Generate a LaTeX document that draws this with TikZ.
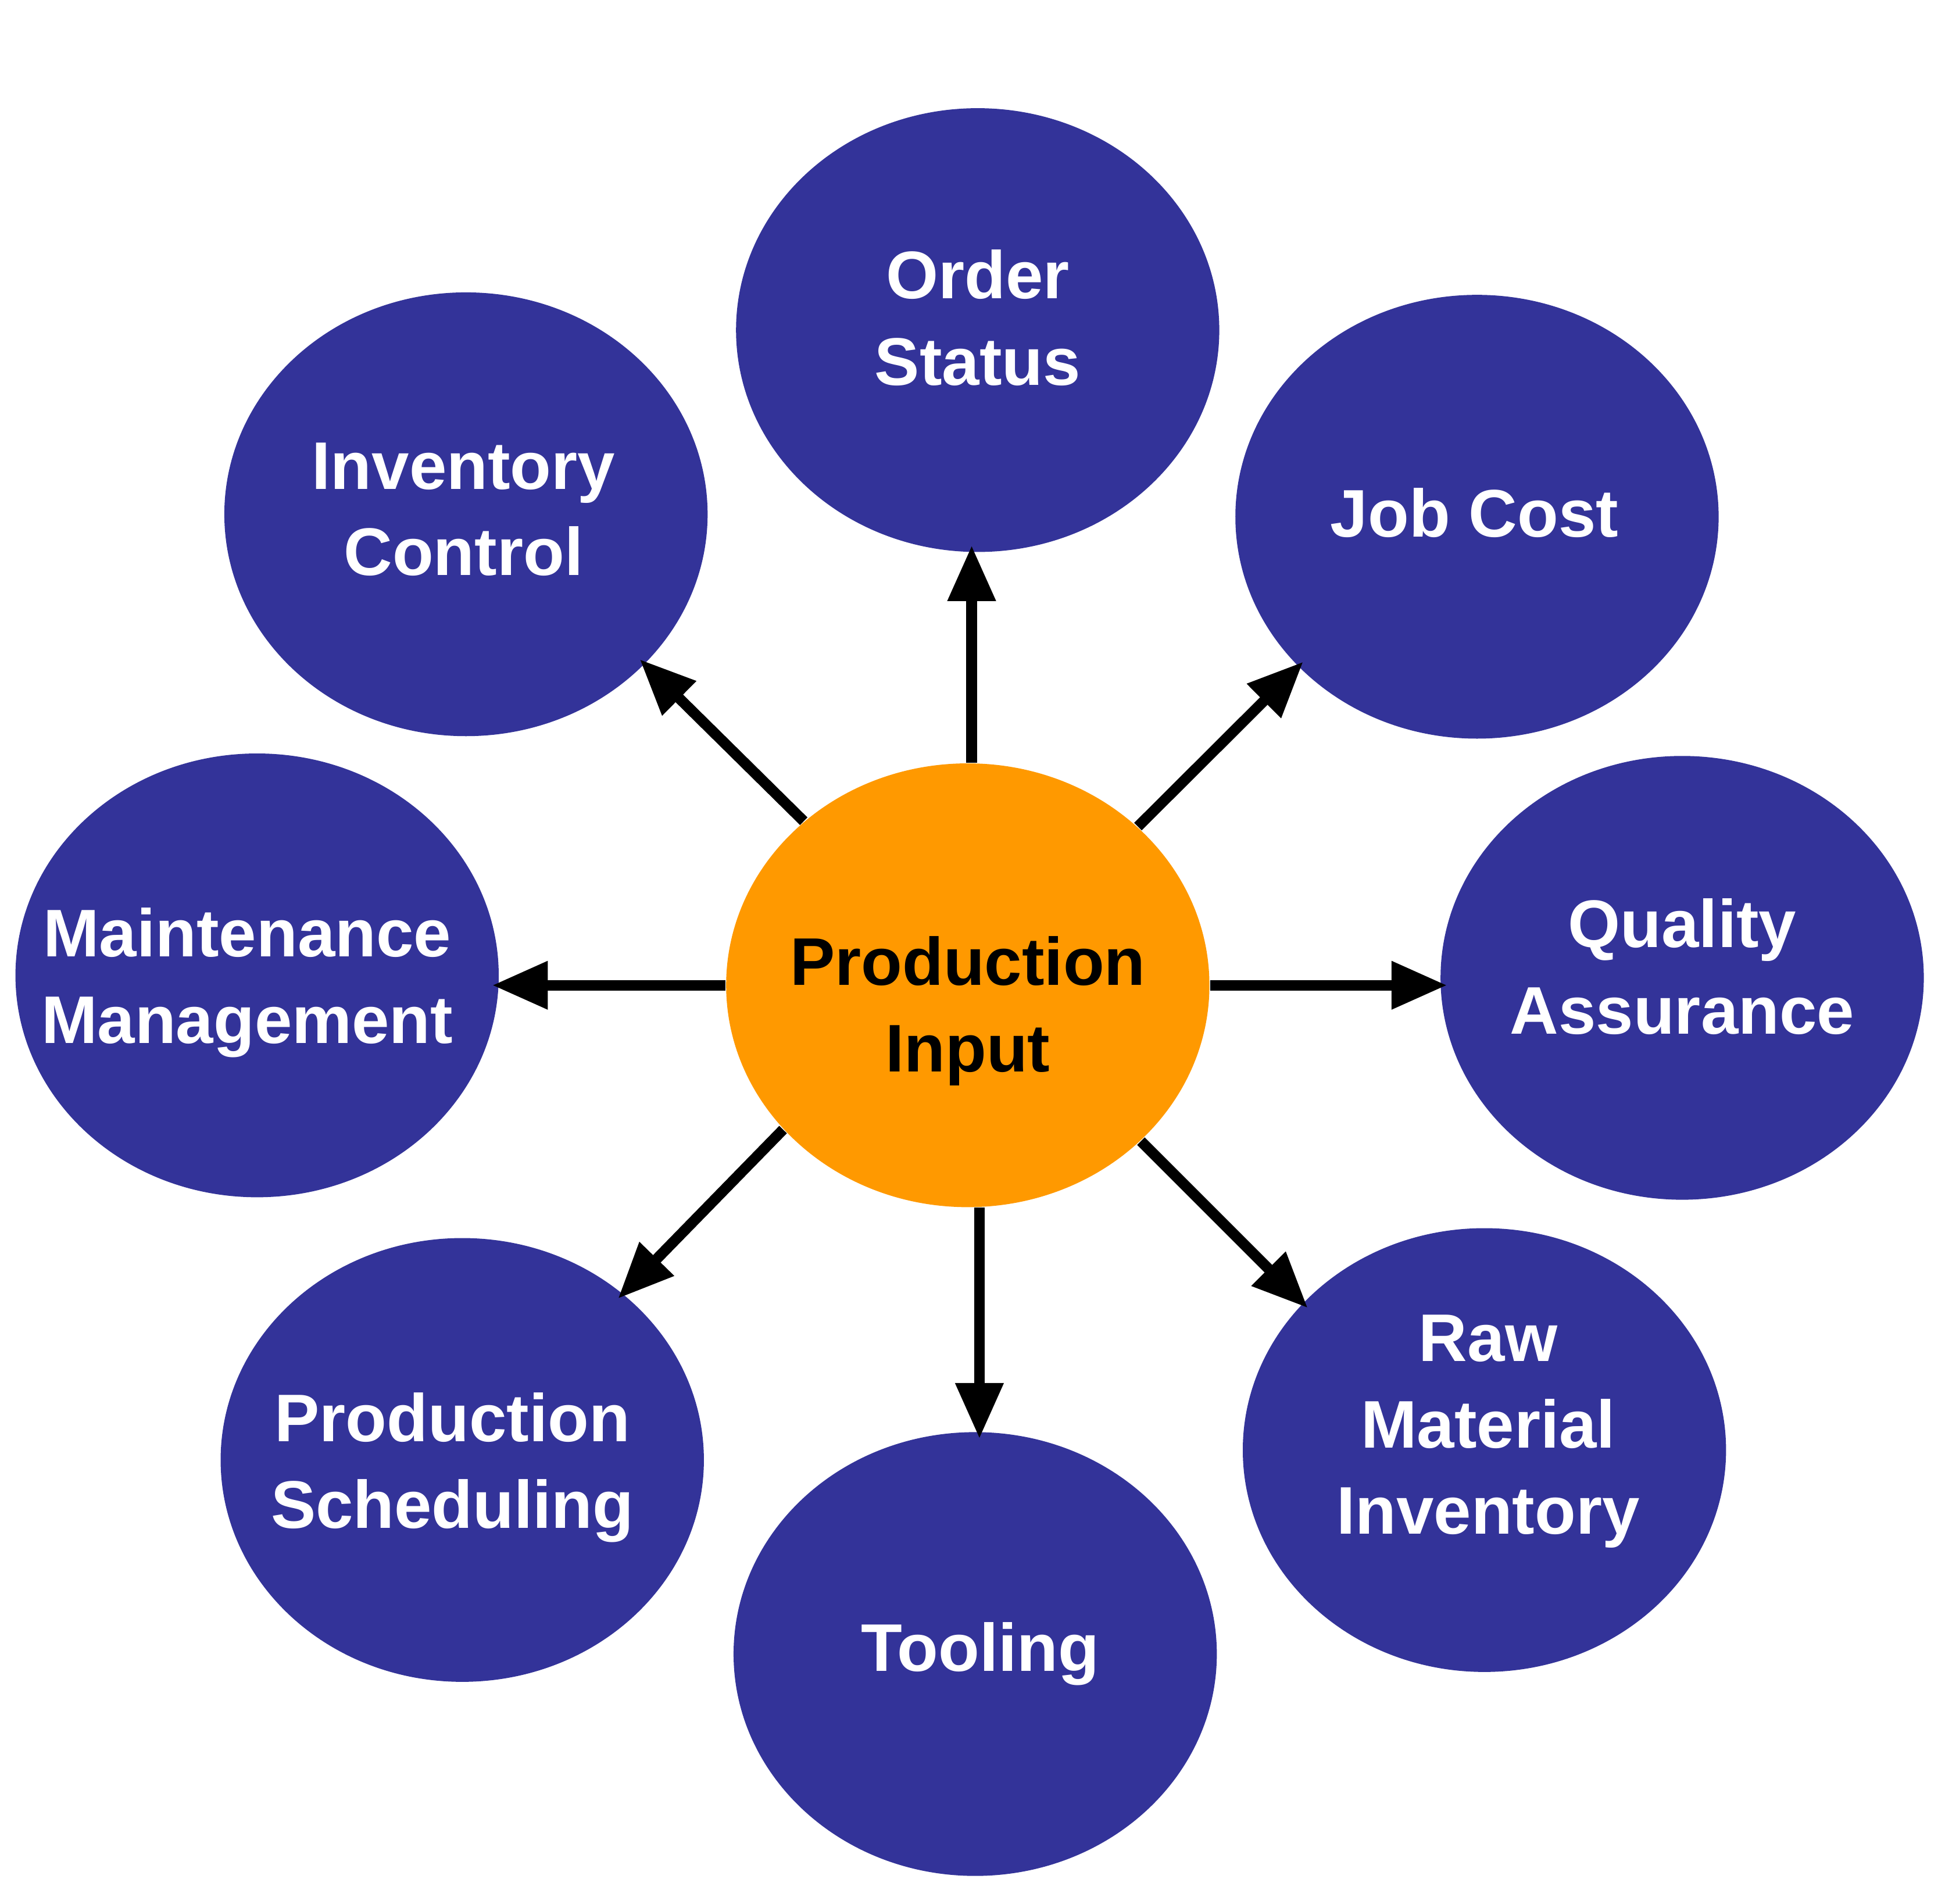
\documentclass[tikz,border=0pt]{standalone}
\usepackage{fontspec}
\setmainfont{Liberation Sans}
\usetikzlibrary{arrows.meta, positioning, shapes.geometric}
\definecolor{cblue}{HTML}{333399}
\definecolor{corange}{HTML}{FF9900}

\begin{document}
\begin{tikzpicture}[
  bubble/.style={ellipse, fill=cblue, minimum width=3.91cm, minimum height=3.59cm, inner sep=0pt},
  hub/.style={bubble, fill=corange},
  lbl/.style={align=center, font=\fontsize{15.5}{19.9}\selectfont\bfseries, text=white, inner sep=0pt},
  hublbl/.style={lbl, text=black},
  link/.style={-{Triangle[length=0.45cm, width=0.37cm]}, line width=2.45pt, shorten >=-0.06cm}
]
  \useasboundingbox (0,0) rectangle (15.68,-15.40);

  % outer ring
  \node[bubble] (order)   at (7.91,-2.67)  {};
  \node[bubble] (invctl)  at (3.77,-4.16)  {};
  \node[bubble] (jobcost) at (11.95,-4.18) {};
  \node[bubble] (maint)   at (2.08,-7.89)  {};
  \node[bubble] (quality) at (13.61,-7.91) {};
  \node[bubble] (sched)   at (3.74,-11.81) {};
  \node[bubble] (tooling) at (7.89,-13.38) {};
  \node[bubble] (raw)     at (12.01,-11.73) {};

  % centre
  \node[hub] (input) at (7.83,-7.97) {};

  % labels
  \node[lbl] (order-t)   at ([yshift=0.10cm]order)                {Order\\Status};
  \node[lbl] (invctl-t)  at ([xshift=-0.02cm, yshift=0.04cm]invctl) {Inventory\\Control};
  \node[lbl] (jobcost-t) at ([xshift=-0.02cm, yshift=0.03cm]jobcost) {Job Cost};
  \node[lbl] (maint-t)   at ([xshift=-0.08cm, yshift=-0.06cm]maint) {Maintenance\\Management};
  \node[lbl] (quality-t) at ([yshift=0.09cm]quality)              {Quality\\Assurance};
  \node[hublbl] (input-t) at ([yshift=-0.21cm]input)              {Production\\Input};
  \node[lbl] (sched-t)   at ([xshift=-0.08cm, yshift=-0.06cm]sched) {Production\\Scheduling};
  \node[lbl] (tooling-t) at ([xshift=0.04cm, yshift=0.0cm]tooling) {Tooling};
  \node[lbl] (raw-t)     at ([xshift=0.03cm, yshift=0.15cm]raw)   {Raw\\Material\\Inventory};

  % arrows out of the hub
  \draw[link] (input.89) -- (input.89 |- order.south);
  \draw[link] (input.-87) -- (input.-87 |- tooling.north);
  \draw[link] (input.west) -- (input.west -| maint.east);
  \draw[link] (input.east) -- (input.east -| quality.west);
  \draw[link] (input.135) -- (invctl.-40);
  \draw[link] (input.43) -- (jobcost.-140);
  \draw[link] (input.-142) -- (sched.46);
  \draw[link] (input.-42) -- (raw.141);
\end{tikzpicture}
\end{document}
